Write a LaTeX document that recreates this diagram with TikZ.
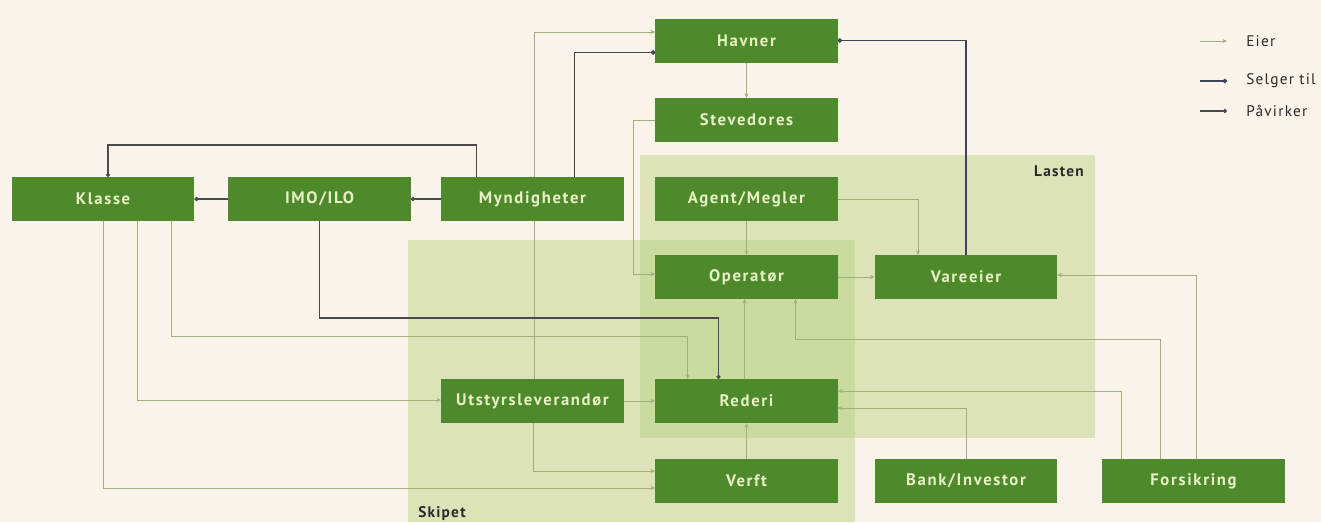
\documentclass[tikz,border=0pt]{standalone}
\usepackage{fontspec}
\setmainfont{PT Sans}
\usetikzlibrary{arrows.meta,calc}
\pgfdeclarelayer{regions}
\pgfdeclarelayer{lines}
\pgfsetlayers{regions,lines,main}
\definecolor{bgcol}{HTML}{FAF3EA}
\definecolor{boxgreen}{HTML}{4E8A2C}
\definecolor{boxtext}{HTML}{E8F1C4}
\definecolor{regioncol}{HTML}{B8D07F}
\definecolor{eiercol}{HTML}{A3AE7A}
\definecolor{selgercol}{HTML}{3C4656}
\definecolor{paavcol}{HTML}{4A4A4A}
\definecolor{labelcol}{HTML}{2A2A2A}
\tikzset{
  box/.style={fill=boxgreen, text=boxtext, minimum width=137pt, minimum height=33pt,
    inner sep=0pt, outer sep=0pt,
    font=\bfseries\fontsize{12.5}{14}\selectfont\addfontfeature{LetterSpace=10}},
  region/.style={fill=regioncol, fill opacity=0.45, draw=none},
  eier/.style={draw=eiercol, line width=0.7pt, -{Stealth[length=3.5pt,width=3pt]}},
  selger/.style={draw=selgercol, line width=1.3pt, -{Circle[length=3.2pt]}},
  paav/.style={draw=paavcol, line width=0.8pt, -{Circle[length=3.2pt]}},
  regionlabel/.style={text=labelcol, inner sep=0pt,
    font=\bfseries\fontsize{11.5}{13}\selectfont\addfontfeature{LetterSpace=8}},
  legtext/.style={text=labelcol, anchor=west, inner sep=0pt,
    font=\fontsize{11.5}{13}\selectfont\addfontfeature{LetterSpace=8}}
}
\begin{document}
\begin{tikzpicture}[x=0.75pt,y=-0.75pt]
\begin{pgfonlayer}{regions}
\fill[bgcol] (0,0) rectangle (1321,522);
\fill[region] (640,155) rectangle (1095,438);
\fill[region] (408,240) rectangle (855,522);
\end{pgfonlayer}
\useasboundingbox (0,0) rectangle (1321,522);

\node[regionlabel, anchor=east] (lasten) at (1084,171) {Lasten};
\node[regionlabel, anchor=west] (skipet) at (418,514) {Skipet};

\node[box] (havner) at (746.5,40.5) {Havner};
\node[box] (stev) at (746.5,120) {Stevedores};
\node[box] (klasse) at (103,199) {Klasse};
\node[box] (imo) at (319.5,199) {IMO/ILO};
\node[box] (mynd) at (532.5,199) {Myndigheter};
\node[box] (agent) at (746.5,199) {Agent/Megler};
\node[box] (oper) at (746.5,277) {Operatør};
\node[box] (vare) at (966,277) {Vareeier};
\node[box] (utstyr) at (532.5,401) {Utstyrsleverandør};
\node[box] (rederi) at (746.5,401) {Rederi};
\node[box] (verft) at (746.5,481) {Verft};
\node[box] (bank) at (966,481) {Bank/Investor};
\node[box] (fors) at (1193.5,481) {Forsikring};

\begin{pgfonlayer}{lines}
\draw[eier] ($(utstyr.north)+(2,0)$) |- ($(havner.west)+(0,-8.5)$);
\draw[selger] ($(mynd.north)+(42,0)$) |- ($(havner.west)+(0,12)$);
\draw[eier] (havner) -- (stev);
\draw[eier] (stev.west) -- ++(-22,0) |- ($(oper.west)+(0,-3)$);
\draw[paav] (mynd.west) -- (imo.east);
\draw[paav] (imo.west) -- (klasse.east);
\draw[paav] ($(mynd.north)+(-56,0)$) -- ++(0,-32) -| ($(klasse.north)+(5,0)$);
\draw[eier] ($(klasse.south)+(68,0)$) -- ++(0,115) -| ($(rederi.north)+(-59,0)$);
\draw[eier] ($(klasse.south)+(34,0)$) |- ($(utstyr.west)+(0,-1)$);
\draw[eier] (klasse.south) |- ($(verft.west)+(0,7)$);
\draw[paav] (imo.south) -- ++(0,97) -| ($(rederi.north)+(-28,0)$);
\draw[eier] (agent) -- (oper);
\draw[eier] (agent.east) -| ($(vare.north)+(-48,0)$);
\draw[eier] (oper) -- (vare);
\draw[selger] (vare.north) |- (havner.east);
\draw[eier] ($(rederi.north)+(-2,0)$) -- ($(oper.south)+(-2,0)$);
\draw[eier] ($(fors.north)+(-33,0)$) -- ++(0,-120) -| ($(oper.south)+(49,0)$);
\draw[eier] ($(fors.north)+(-72,0)$) |- ($(rederi.east)+(0,-10)$);
\draw[eier] ($(fors.north)+(3,0)$) |- ($(vare.east)+(0,-2)$);
\draw[eier] (bank.north) |- ($(rederi.east)+(0,7)$);
\draw[eier] (utstyr) -- (rederi);
\draw[eier] (verft) -- (rederi);
\draw[eier] ($(utstyr.south)+(1,0)$) |- ($(verft.west)+(0,-10)$);
\end{pgfonlayer}

% legend
\node[legtext] (leg1) at (1246,41) {Eier};
\node[legtext] (leg2) at (1246,81) {Selger til};
\node[legtext] (leg3) at (1246,111) {Påvirker};
\coordinate (leg1s) at (1200,41);
\coordinate (leg2s) at (1200,81);
\coordinate (leg3s) at (1200,111);
\draw[eier] (leg1s) -- ($(leg1.west)+(-19,0)$);
\draw[selger] (leg2s) -- ($(leg2.west)+(-19,0)$);
\draw[paav] (leg3s) -- ($(leg3.west)+(-19,0)$);
\end{tikzpicture}
\end{document}
